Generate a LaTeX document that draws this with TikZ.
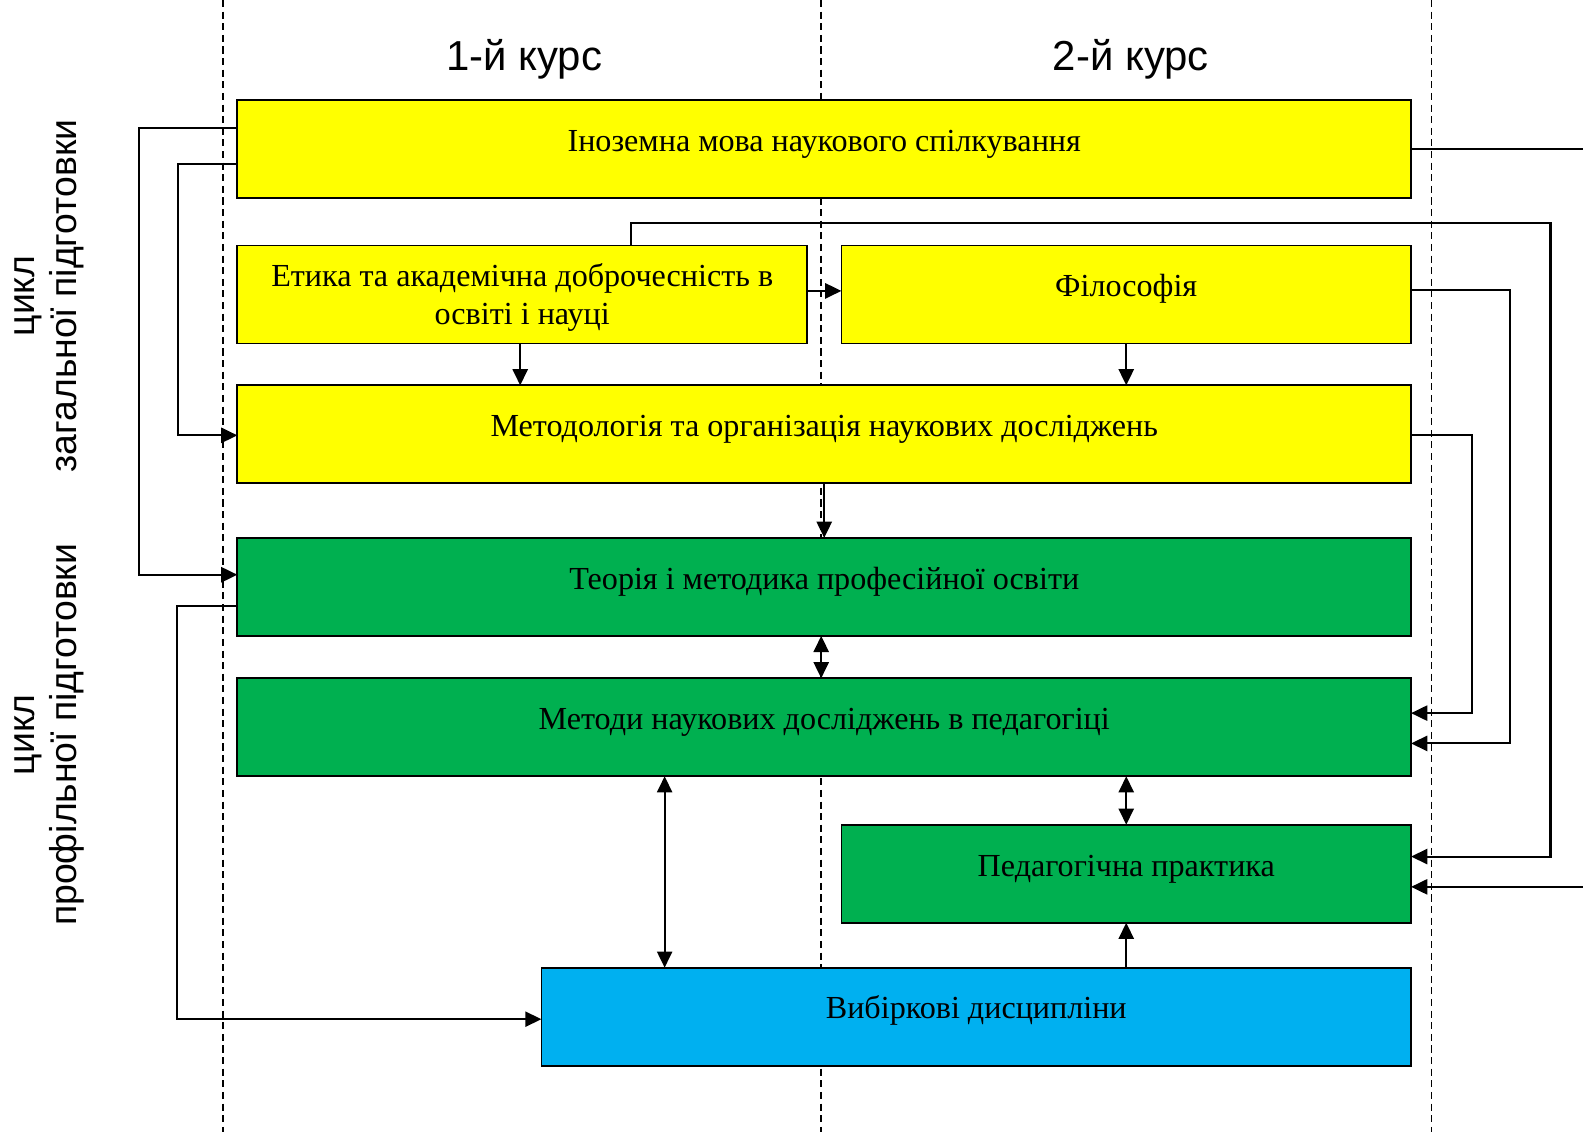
\documentclass[tikz,border=0pt]{standalone}
\usepackage{fontspec}
\setmainfont{Liberation Serif}
\newfontfamily\headfont{Liberation Sans}
\usetikzlibrary{arrows.meta}
\definecolor{yel}{RGB}{255,255,0}
\definecolor{grn}{RGB}{0,176,80}
\definecolor{blu}{RGB}{0,176,240}
\tikzset{
  boxbase/.style={draw, line width=1.8pt, inner sep=0pt, outer sep=0pt, align=center,
    font=\fontsize{31.8}{37.6}\selectfont},
  box/.style={boxbase, text height=22pt, text depth=17.4pt},
  ybox/.style={box, fill=yel},
  gbox/.style={box, fill=grn},
  bbox/.style={box, fill=blu},
  wide/.style={minimum width=1162pt, minimum height=97pt},
  half/.style={minimum width=564pt, minimum height=97pt},
  guide/.style={line width=1.5pt, dash pattern=on 7pt off 4.5pt},
  tipA/.tip={Triangle[length=16pt,width=15pt]},
  conn/.style={line width=2pt, -tipA},
  biconn/.style={line width=2pt, tipA-tipA},
  plain/.style={line width=2pt},
  head/.style={font=\headfont\fontsize{41.5}{48}\selectfont, anchor=base},
  side/.style={font=\headfont\fontsize{37}{41}\selectfont, align=center, rotate=90}
}
\begin{document}
\begin{tikzpicture}[x=1pt,y=-1pt]
\useasboundingbox (0,0) rectangle (1567.2,1120.7);
% column guides
\coordinate (g1t) at (221,0); \coordinate (g1b) at (221,1120.7);
\coordinate (g2t) at (813,0); \coordinate (g2b) at (813,1120.7);
\coordinate (g3t) at (1417,0); \coordinate (g3b) at (1417,1120.7);
\draw[guide] (g1t) -- (g1b);
\draw[guide] (g2t) -- (g2b);
\draw[guide] (g3t) -- (g3b);
% headings
\node[head] (h1) at (519,70) {1-й курс};
\node[head] (h2) at (1119.5,70) {2-й курс};
\node[side] (s1) at (49,293) {цикл\\загальної підготовки};
\node[side] (s2) at (49,727.5) {цикл\\профільної підготовки};
% boxes
\node[ybox, wide] (ino) at (816,147.2) {Іноземна мова наукового спілкування};
\node[boxbase, fill=yel, half] (eti) at (517,291.5) {\rule{0pt}{28pt}Етика та академічна доброчесність в\\освіті і науці};
\node[ybox, half] (fil) at (1115,291.5) {Філософія};
\node[ybox, wide] (met) at (816,430) {Методологія та організація наукових досліджень};
\node[gbox, wide] (teo) at (816,581) {Теорія і методика професійної освіти};
\node[gbox, wide] (mtd) at (816,720) {Методи наукових досліджень в педагогіці};
\node[gbox, half] (ped) at (1115,865) {Педагогічна практика};
\node[bbox, minimum width=861pt, minimum height=97pt] (vyb) at (966.5,1006.5) {Вибіркові дисципліни};
% free ends at the right edge
\coordinate (outA) at (1567.2,147.5);
\coordinate (outB) at (1567.2,878);
% connectors
\draw[conn] (ino.west |- 0,127) -- (138,127) |- (teo.west |- 0,569);
\draw[conn] (ino.west |- 0,162) -- (176,162) |- (met.west |- 0,431);
\draw[conn] (teo.west |- 0,600) -- (175,600) |- (vyb.west |- 0,1009);
\draw[conn] (eti.east |- 0,288) -- (fil.west |- 0,288);
\draw[conn] (eti.south -| 515,0) -- (met.north -| 515,0);
\draw[conn] (fil.south) -- (fil.south |- met.north);
\draw[conn] (eti.north -| 625,0) |- (1535,220.8) |- (ped.east |- 0,848);
\draw[plain] (ino.east |- outA) -- (outA);
\draw[conn] (outB) -- (ped.east |- outB);
\draw[conn] (fil.east |- 0,287.4) -- (1495,287.4) |- (mtd.east |- 0,736);
\draw[conn] (met.east |- 0,431) -- (1457,431) |- (mtd.east |- 0,706);
\draw[conn] (met.south) -- (teo.north);
\draw[biconn] (teo.south -| 813,0) -- (mtd.north -| 813,0);
\draw[biconn] (mtd.south -| 658,0) -- (vyb.north -| 658,0);
\draw[biconn] (mtd.south -| ped.north) -- (ped.north);
\draw[conn] (vyb.north -| ped.south) -- (ped.south);
\end{tikzpicture}
\end{document}
